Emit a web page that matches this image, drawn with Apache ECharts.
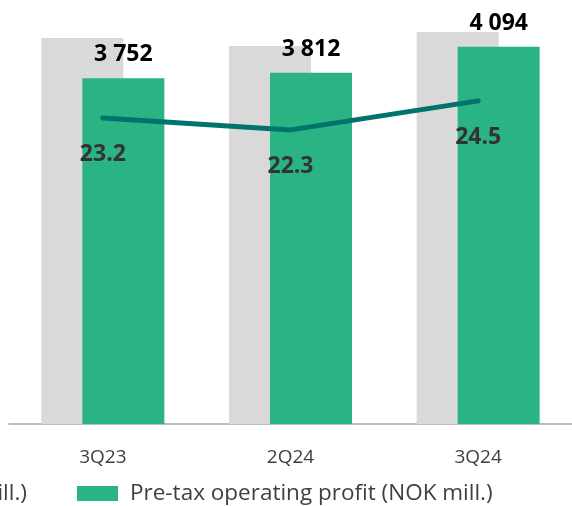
<!DOCTYPE html>
<html>
<head>
<meta charset="utf-8">
<script src="https://cdn.jsdelivr.net/npm/echarts@6/dist/echarts.min.js"></script>
<style>
  html, body { margin: 0; padding: 0; background: #fff; }
  #chart { width: 572px; height: 506px; }
</style>
</head>
<body>
<div id="chart"></div>
<script>
var quarters = ['3Q23', '2Q24', '3Q24'];
var incomeValues = [4189, 4102, 4254];
var profitValues = [3752, 3812, 4094];
var roeValues = [23.2, 22.3, 24.5];

var fontName = '"Open Sans", "Noto Sans", sans-serif';

var setChart = function (targetid) {
    var option = {
        animation: false,
        textStyle: { fontFamily: fontName },
        grid: { left: 9, right: -4, top: 24, bottom: 82 },
        legend: [
            {
                data: [{ name: 'Operating income (NOK mill.)', icon: 'rect' }],
                right: 545,
                bottom: 1,
                padding: 0,
                itemWidth: 41,
                itemHeight: 15,
                textStyle: { fontSize: 22.5, color: '#404040', fontFamily: fontName, padding: [0, 0, 0, 7] }
            },
            {
                data: [{ name: 'Pre-tax operating profit (NOK mill.)', icon: 'rect' }],
                left: 77,
                bottom: 1,
                padding: 0,
                itemWidth: 41,
                itemHeight: 15,
                textStyle: { fontSize: 22.5, color: '#404040', fontFamily: fontName, padding: [0, 0, 0, 7] }
            }
        ],
        xAxis: [
            {
                type: 'category',
                data: quarters,
                axisLine: { lineStyle: { color: '#a6a6a6', width: 1.5 } },
                axisTick: { show: false },
                axisLabel: { margin: 24, fontSize: 19, color: '#404040', fontFamily: fontName }
            }
        ],
        yAxis: [
            { type: 'value', min: 0, max: 4341, show: false, splitLine: { show: false } },
            { type: 'value', min: 0, max: 30.33, show: false, splitLine: { show: false } }
        ],
        series: [
            {
                name: 'Operating income (NOK mill.)',
                type: 'bar',
                barWidth: 82,
                barGap: '-50%',
                itemStyle: { color: '#d9d9d9' },
                data: incomeValues
            },
            {
                name: 'Pre-tax operating profit (NOK mill.)',
                type: 'bar',
                barWidth: 82,
                barGap: '-50%',
                itemStyle: { color: '#2ab484' },
                label: {
                    show: true,
                    position: 'top',
                    distance: 12,
                    fontSize: 23,
                    fontWeight: 'bold',
                    color: '#000',
                    fontFamily: fontName,
                    formatter: function (p) {
                        return String(p.value).replace(/\B(?=(\d{3})+(?!\d))/g, ' ');
                    }
                },
                data: profitValues
            },
            {
                name: 'ROE',
                type: 'line',
                yAxisIndex: 1,
                z: 5,
                symbol: 'circle',
                symbolSize: 0,
                showSymbol: true,
                itemStyle: { color: '#00736f', opacity: 0 },
                lineStyle: { color: '#00736f', width: 5, cap: 'round', opacity: 1 },
                label: {
                    show: true,
                    position: 'bottom',
                    distance: 25,
                    fontSize: 23,
                    fontWeight: 'bold',
                    color: '#333333',
                    opacity: 1,
                    fontFamily: fontName,
                    formatter: function (p) { return p.value.toFixed(1); }
                },
                data: roeValues
            }
        ]
    };

    var myChart = echarts.init(document.getElementById(targetid));
    myChart.setOption(option);
};

setChart('chart');
</script>
</body>
</html>
